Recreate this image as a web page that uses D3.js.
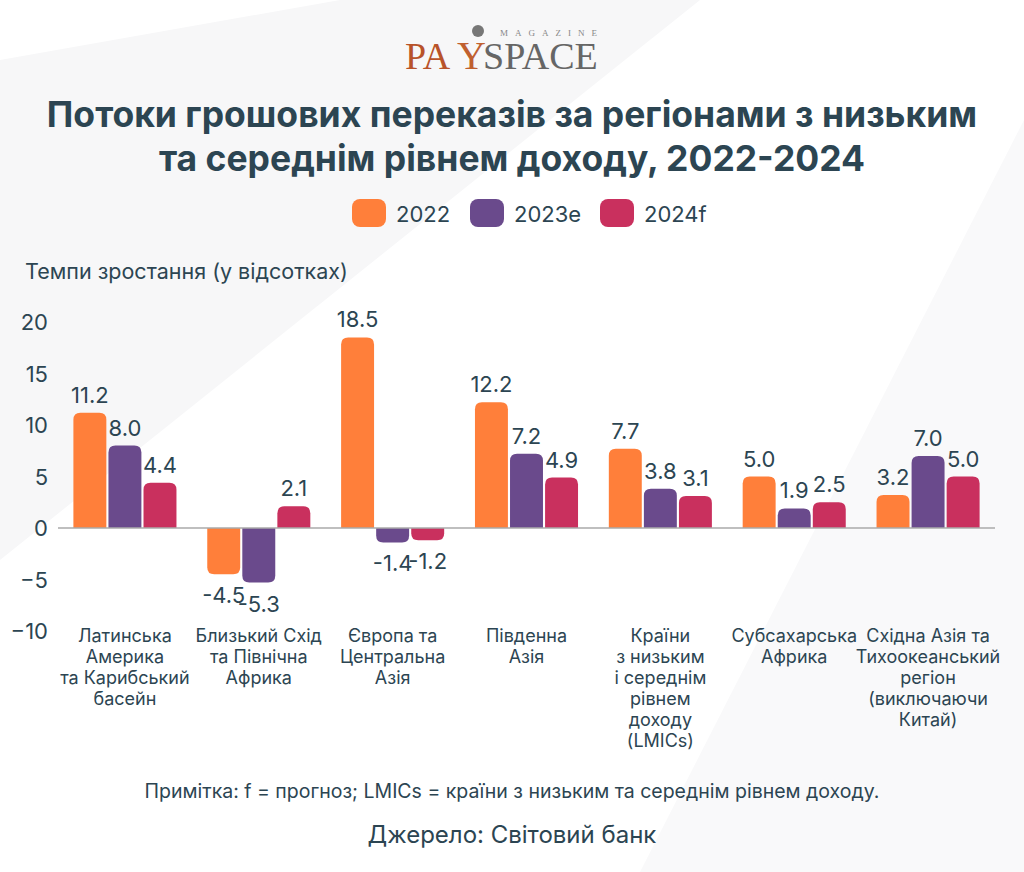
<!DOCTYPE html>
<html lang="uk">
<head>
<meta charset="utf-8">
<script src="https://cdn.jsdelivr.net/npm/d3@7/dist/d3.min.js"></script>
<style>
body { margin:0; background:#fff; }
text { font-family: Inter, "Noto Sans", sans-serif; fill:#2c4552; }
</style>
</head>
<body>
<script>
var categories = [
  ["Латинська", "Америка", "та Карибський", "басейн"],
  ["Близький Схід", "та Північна", "Африка"],
  ["Європа та", "Центральна", "Азія"],
  ["Південна", "Азія"],
  ["Країни", "з низьким", "і середнім", "рівнем", "доходу", "(LMICs)"],
  ["Субсахарська", "Африка"],
  ["Східна Азія та", "Тихоокеанський", "регіон", "(виключаючи", "Китай)"]
];
var seriesNames = ["2022", "2023e", "2024f"];
var values2022 = [11.2, -4.5, 18.5, 12.2, 7.7, 5.0, 3.2];
var values2023 = [8.0, -5.3, -1.4, 7.2, 3.8, 1.9, 7.0];
var values2024 = [4.4, 2.1, -1.2, 4.9, 3.1, 2.5, 5.0];
var yTicks = [-10, -5, 0, 5, 10, 15, 20];
var colors = ["#ff7f3a", "#6a4a8c", "#c9305e"];
var series = [values2022, values2023, values2024];

var W = 1024, H = 872;
var svg = d3.select("body").append("svg").attr("width", W).attr("height", H);

// background shapes
svg.append("rect").attr("width", W).attr("height", H).attr("fill", "#fff");
svg.append("path").attr("d", "M0,60 L340,0 L700,0 L0,560 Z").attr("fill", "#f7f7f8");
svg.append("path").attr("d", "M1024,120 L640,872 L1024,872 Z").attr("fill", "#f9f9fa");

// logo
var serif = "'Liberation Serif', serif";
svg.append("text").attr("x", 405).attr("y", 69).style("font-family", serif)
  .attr("font-size", 38).style("fill", "#b8532a").text("PA");
svg.append("text").attr("x", 457).attr("y", 69).style("font-family", serif)
  .attr("font-size", 40).style("fill", "#c0602f").text("Y");
svg.append("circle").attr("cx", 478).attr("cy", 31).attr("r", 6).attr("fill", "#777");
svg.append("text").attr("x", 483).attr("y", 69).style("font-family", serif)
  .attr("font-size", 38).style("fill", "#666").text("SPACE");
svg.append("text").attr("x", 500).attr("y", 36).style("font-family", serif)
  .attr("font-size", 9).attr("letter-spacing", 7).style("fill", "#888").text("MAGAZINE");

// title
svg.append("text").attr("x", 512).attr("y", 127).attr("text-anchor", "middle")
  .attr("font-size", 35.5).attr("font-weight", 700).text("Потоки грошових переказів за регіонами з низьким");
svg.append("text").attr("x", 512).attr("y", 171).attr("text-anchor", "middle")
  .attr("font-size", 35.5).attr("font-weight", 700).text("та середнім рівнем доходу, 2022-2024");

// legend
var legX = [352, 470, 600];
seriesNames.forEach(function(n, i) {
  svg.append("rect").attr("x", legX[i]).attr("y", 199).attr("width", 34).attr("height", 28)
    .attr("rx", 8).attr("fill", colors[i]);
  svg.append("text").attr("x", legX[i] + 44).attr("y", 222).attr("font-size", 22).text(n);
});

svg.append("text").attr("x", 25).attr("y", 279).attr("font-size", 21.5).text("Темпи зростання (у відсотках)");

var x0 = d3.scaleBand().domain(d3.range(categories.length)).range([58, 995]).paddingInner(0.23).paddingOuter(0.115);
var x1 = d3.scaleBand().domain(d3.range(3)).range([0, x0.bandwidth()]).paddingInner(0.06);
var y = d3.scaleLinear().domain([-10, 20]).range([631, 322]);

var yAxis = svg.append("g").attr("transform", "translate(48,0)")
  .call(d3.axisLeft(y).tickValues(yTicks).tickSize(0).tickPadding(0));
yAxis.select(".domain").remove();
yAxis.selectAll("text").attr("font-size", 22).attr("dy", "0.35em").style("fill", "#2c4552")
  .style("font-family", "Inter, 'Noto Sans', sans-serif");

series.forEach(function(vals, s) {
  var g = svg.append("g");
  g.selectAll("path").data(vals).enter().append("path")
    .attr("fill", colors[s])
    .attr("d", function(v, i) {
      var x = x0(i) + x1(s), w = x1.bandwidth(), r = 7;
      var y0 = y(0), y1 = y(v), sg = v >= 0 ? 1 : -1;
      return "M" + x + "," + y0 + "V" + (y1 + sg * r) + "Q" + x + "," + y1 + " " + (x + r) + "," + y1 +
        "H" + (x + w - r) + "Q" + (x + w) + "," + y1 + " " + (x + w) + "," + (y1 + sg * r) + "V" + y0 + "Z";
    });
  g.selectAll("text").data(vals).enter().append("text")
    .attr("x", function(v, i) { return x0(i) + x1(s) + x1.bandwidth() / 2; })
    .attr("y", function(v) { return v >= 0 ? y(v) - 10 : y(v) + 29; })
    .attr("text-anchor", "middle").attr("font-size", 22)
    .text(function(v) { return v.toFixed(1); });
});

svg.append("line").attr("x1", 58).attr("x2", 995).attr("y1", y(0)).attr("y2", y(0))
  .attr("stroke", "#aaa").attr("stroke-width", 1.5);

categories.forEach(function(lines, i) {
  var cx = x0(i) + x0.bandwidth() / 2;
  var t = svg.append("text").attr("x", cx).attr("y", 642)
    .attr("text-anchor", "middle").attr("font-size", 18);
  lines.forEach(function(l, k) {
    t.append("tspan").attr("x", cx).attr("dy", k ? 21 : 0).text(l);
  });
});

svg.append("text").attr("x", 512).attr("y", 798).attr("text-anchor", "middle").attr("font-size", 19.5)
  .text("Примітка: f = прогноз; LMICs = країни з низьким та середнім рівнем доходу.");
svg.append("text").attr("x", 512).attr("y", 843).attr("text-anchor", "middle").attr("font-size", 24)
  .text("Джерело: Світовий банк");
</script>
</body>
</html>
